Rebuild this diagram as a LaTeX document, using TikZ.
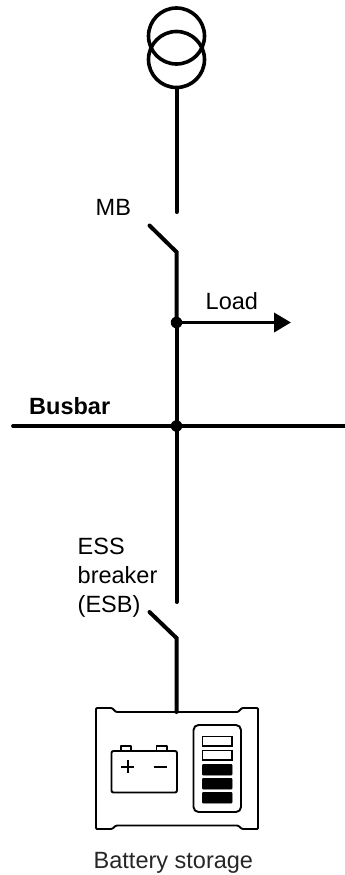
\documentclass[tikz,border=0pt]{standalone}
\usepackage{fontspec}
\setmainfont{Liberation Sans}
\usetikzlibrary{arrows.meta}
\tikzset{
  wire/.style={line width=4pt,line cap=round,black},
  hwire/.style={line width=3.7pt,line cap=butt,black},
  ring/.style={circle,draw=black,line width=3.6pt,minimum size=56pt,inner sep=0pt},
  dot/.style={circle,fill=black,minimum size=11.5pt,inner sep=0pt},
  lbl/.style={inner sep=0pt,anchor=base west,font=\fontsize{23.5}{29}\selectfont,text=black},
  thin outline/.style={line width=1.9pt,black,line join=round},
  cellbox/.style={draw=black,line width=1.9pt,fill=white},
  cellfull/.style={draw=black,line width=0.8pt,fill=black,rounded corners=0.8pt}
}
\begin{document}
\begin{tikzpicture}[x=1pt,y=-1pt]
\useasboundingbox (0,0) rectangle (345,875);
\node[ring] (t1) at (176.5,36) {};
\node[ring] (t2) at (176.5,59.5) {};
\coordinate (mbTop) at (176.5,212);
\coordinate (mbJoint) at (176.5,252);
\coordinate (mbBlade) at (149.5,225.5);
\node[dot] (loadDot) at (176.5,322.5) {};
\coordinate (loadEnd) at (291,322.5);
\coordinate (busL) at (13,426);
\coordinate (busR) at (345,426);
\node[dot] (busDot) at (176.5,426) {};
\coordinate (esbTop) at (176.5,602);
\coordinate (esbJoint) at (176.5,638);
\coordinate (esbBlade) at (149.5,612);
\coordinate (devTop) at (176.5,712);
\draw[wire] (t2.south) -- (mbTop);
\draw[wire] (mbBlade) -- (mbJoint) -- (loadDot.center);
\draw[wire] (loadDot.center) -- (busDot.center);
\draw[hwire,-{Triangle[length=17pt,width=19pt,sep=0pt]}] (loadDot.center) -- (loadEnd);
\draw[hwire,line cap=round] (busL) -- (busDot.center);
\draw[hwire] (busDot.center) -- (busR);
\draw[wire] (busDot.center) -- (esbTop);
\draw[wire] (esbBlade) -- (esbJoint) -- (devTop);
% battery storage unit
\draw[thin outline,rounded corners=1pt] (96,829) -- (96,708) -- (112,708) -- (116,712) -- (238,712) -- (242,708) -- (258,708) -- (258,829) -- (242,829) -- (238,825.5) -- (116,825.5) -- (112,829) -- cycle;
\draw[thin outline,rounded corners=2pt] (111.5,751) rectangle (177,792.5);
\draw[thin outline] (121,751) -- (121,746) -- (131,746) -- (131,751);
\draw[thin outline] (156.5,751) -- (156.5,746) -- (167,746) -- (167,751);
\draw[thin outline,line width=2pt] (121,766.5) -- (134,766.5) (127.5,760) -- (127.5,773);
\draw[thin outline,line width=2pt] (153.5,766.5) -- (166.5,766.5);
\draw[thin outline,rounded corners=5pt] (193.5,725) rectangle (241,812);
\draw[cellbox] (202.5,736.5) rectangle (232,746);
\draw[cellbox] (202.5,750.5) rectangle (232,760);
\draw[cellfull] (202.5,764.5) rectangle (232,775);
\draw[cellfull] (202.5,778.5) rectangle (232,789);
\draw[cellfull] (202.5,792.5) rectangle (232,803);
\node[lbl] (mb) at (95.5,215.5) {MB};
\node[lbl] (load) at (205.5,309) {Load};
\node[lbl,font=\fontsize{23.5}{29}\selectfont\bfseries] (busbar) at (29,414) {Busbar};
\node[lbl] (ess1) at (77.5,554) {ESS};
\node[lbl] (ess2) at (77.5,583) {breaker};
\node[lbl] (ess3) at (77.5,612) {(ESB)};
\node[lbl,text=black!85] (bat) at (93.5,868) {Battery storage};
\end{tikzpicture}
\end{document}
